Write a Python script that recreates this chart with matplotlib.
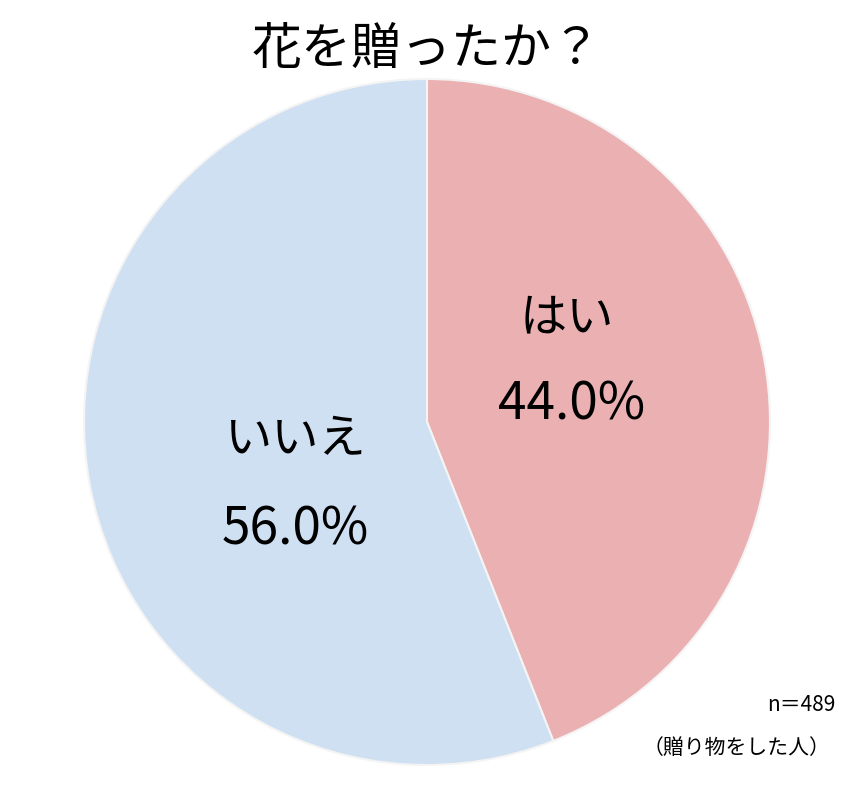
import matplotlib
matplotlib.use("Agg")
import matplotlib.pyplot as plt

plt.rcParams['font.family'] = ['Noto Sans CJK JP', 'DejaVu Sans']

categories = ["はい", "いいえ"]
values = [44.0, 56.0]
colors = ["#ebb1b2", "#cfe0f2"]

fig = plt.figure(figsize=(8.55, 7.96), dpi=100)
ax = fig.add_axes([0, 0, 1, 1])
ax.set_xlim(0, 855)
ax.set_ylim(0, 796)
ax.set_aspect('equal')
ax.axis('off')

ax.pie(values, colors=colors, startangle=90, counterclock=False,
       center=(427, 374), radius=343,
       wedgeprops=dict(edgecolor='#f4f4f4', linewidth=1.5))
ax.set_xlim(0, 855)
ax.set_ylim(0, 796)

ax.text(567, 478, categories[0], fontsize=34, ha='center', va='center')
ax.text(572, 391, f"{values[0]:.1f}%", fontsize=37, ha='center', va='center')
ax.text(295, 356, categories[1], fontsize=34, ha='center', va='center')
ax.text(295, 266, f"{values[1]:.1f}%", fontsize=37, ha='center', va='center')

ax.text(427, 746, "花を贈ったか？", fontsize=36, ha='center', va='center')
ax.text(835, 91, "n＝489", fontsize=15, ha='right', va='center')
ax.text(830, 48, "（贈り物をした人）", fontsize=15, ha='right', va='center')

fig.savefig("out.png", dpi=100)
